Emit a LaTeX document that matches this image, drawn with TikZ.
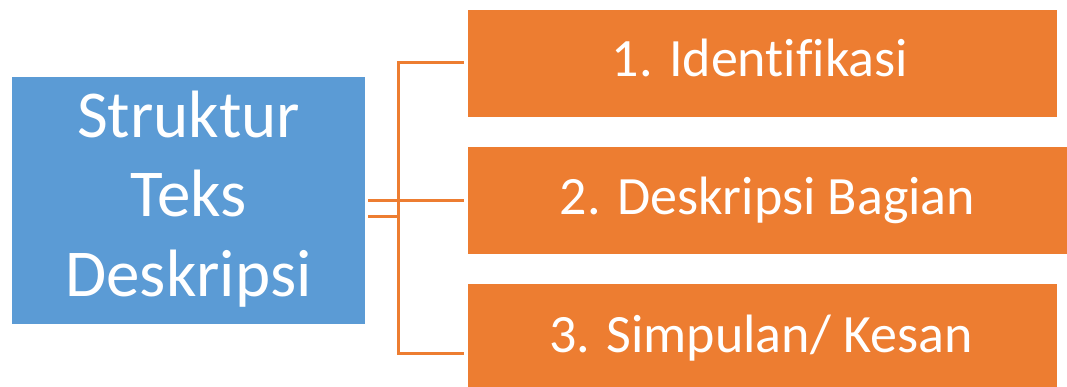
\documentclass[tikz,border=0pt]{standalone}
\usepackage{fontspec}
\setmainfont{Carlito}[Ligatures=NoCommon]
\definecolor{boxblue}{HTML}{5B9BD5}
\definecolor{boxorange}{HTML}{ED7D31}
\begin{document}
\begin{tikzpicture}[x=1pt,y=-1pt,
  bluebox/.style={fill=boxblue, draw=none, inner sep=0pt, minimum width=353pt, minimum height=247pt},
  orangebox/.style={fill=boxorange, draw=none, inner sep=0pt, minimum height=107pt},
  ltxt/.style={text=white, inner sep=0pt, anchor=base, font=\fontsize{67}{79}\selectfont},
  txt/.style={text=white, inner sep=0pt, anchor=base, font=\fontsize{54}{65}\selectfont},
  conn/.style={draw=boxorange, line width=3pt}]
\useasboundingbox (0,0) rectangle (1067,387);
% boxes
\node[bluebox] (main) at (188.5,200.5) {};
\node[orangebox, minimum width=589pt] (b1) at (762.5,63.5) {};
\node[orangebox, minimum width=599pt] (b2) at (767.5,200.5) {};
\node[orangebox, minimum width=589pt, minimum height=103pt] (b3) at (762.5,335.5) {};
% texts
\node[ltxt] (l1) at (188.5,138) {Struktur};
\node[ltxt] (l2) at (188.5,217) {Teks};
\node[ltxt] (l3) at (188.5,296) {Deskripsi};
\node[txt] (t1) at (760,77) {1. Identifikasi};
\node[txt] (t2) at (767.5,215) {2. Deskripsi Bagian};
\node[txt] (t3) at (761,352) {3. Simpulan/ Kesan};
% connectors
\coordinate (j1) at (398,201);
\coordinate (j2) at (398,217);
\coordinate (jt) at (398,63);
\coordinate (jb) at (398,353);
\draw[conn, shorten <=3pt] (main.east |- j1) -- (j1);
\draw[conn, shorten <=3pt] (main.east |- j2) -- (j2);
\draw[conn, shorten <=4pt, shorten >=4pt] (b1.west |- jt) -- (jt) -- (jb) -- (b3.west |- jb);
\draw[conn, shorten >=4pt] (j1) -- (b2.west |- j1);
\end{tikzpicture}
\end{document}
